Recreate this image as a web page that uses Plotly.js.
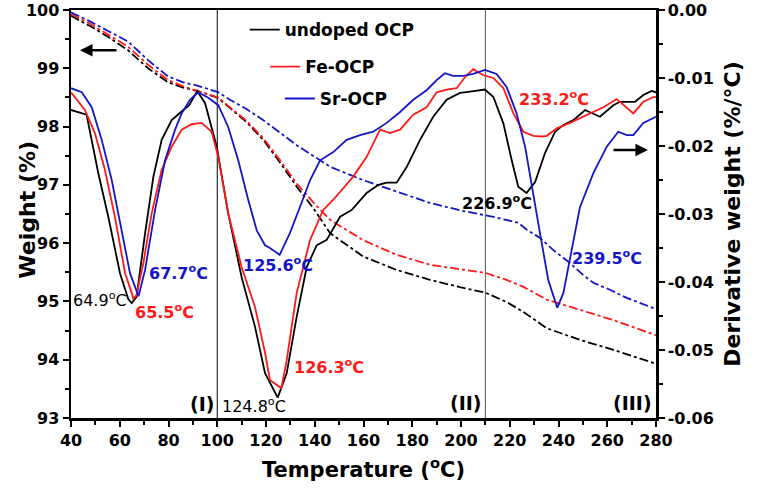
<!DOCTYPE html>
<html>
<head>
<meta charset="utf-8">
<script src="https://cdn.plot.ly/plotly-3.0.1.min.js"></script>
<style>
  html, body { margin: 0; padding: 0; background: #fff; }
  #chart { width: 757px; height: 493px; }
</style>
</head>
<body>
<div id="chart"></div>
<script>
/* TGA (dash-dot, left axis) + DTG (solid, right axis) for undoped / Fe / Sr OCP */

// ---- DTG curves (%/°C) ----
const undopedDtgT = [40, 46.4, 51.2, 55.3, 60.1, 63.5, 64.9, 66.9, 70.4, 73.8, 77.2, 81.3, 86.1, 88.5, 91.8, 95, 99.8, 104.5, 110, 115.5, 119.6, 124.8, 128.5, 132.6, 136.7, 140.8, 144.9, 150.4, 155.2, 161.3, 166.1, 169.5, 173.6, 177.7, 183.2, 188.6, 194.1, 199.6, 203.7, 209.8, 213.3, 217.4, 220.8, 223.5, 226.9, 230.4, 234.5, 238.6, 242, 246.1, 250.9, 257, 262.5, 265.2, 271.4, 274.8, 278.2, 280];
const undopedDtg  = [-0.0147, -0.0154, -0.0240, -0.0304, -0.0387, -0.0425, -0.0431, -0.0422, -0.0328, -0.0245, -0.0191, -0.0162, -0.0147, -0.0140, -0.0119, -0.0137, -0.0201, -0.0299, -0.0393, -0.0466, -0.0534, -0.0570, -0.0534, -0.0451, -0.0378, -0.0346, -0.0338, -0.0304, -0.0294, -0.0269, -0.0257, -0.0254, -0.0254, -0.0231, -0.0191, -0.0157, -0.0132, -0.0122, -0.0120, -0.0117, -0.0128, -0.0167, -0.0221, -0.0260, -0.0269, -0.0253, -0.0210, -0.0179, -0.0169, -0.0162, -0.0147, -0.0157, -0.0140, -0.0135, -0.0135, -0.0125, -0.0119, -0.0121];

const feDtgT = [40, 45.7, 49.8, 53.9, 58, 62.2, 64.9, 65.5, 66.8, 69.7, 73.1, 77.2, 81.3, 85.4, 89.5, 93.6, 97.7, 100.4, 104.5, 110, 115.5, 119.6, 121.6, 126.3, 128.5, 132.6, 138.1, 143.5, 147.6, 150.4, 155.8, 161.3, 166.8, 170.9, 175, 180.4, 185.9, 190, 194.1, 198.2, 201.6, 205, 209.2, 213.3, 217.4, 221.5, 225.6, 229.7, 233.2, 235.2, 239.3, 244.7, 251.6, 258.4, 263.9, 268, 270.7, 274.8, 278.9, 280];
const feDtg  = [-0.0121, -0.0147, -0.0181, -0.0235, -0.0304, -0.0387, -0.0416, -0.0424, -0.0420, -0.0372, -0.0299, -0.0235, -0.0201, -0.0176, -0.0168, -0.0166, -0.0179, -0.0216, -0.0299, -0.0378, -0.0437, -0.0504, -0.0544, -0.0556, -0.0515, -0.0416, -0.0338, -0.0294, -0.0279, -0.0267, -0.0245, -0.0216, -0.0176, -0.0181, -0.0176, -0.0154, -0.0143, -0.0121, -0.0117, -0.0115, -0.0099, -0.0087, -0.0096, -0.0100, -0.0115, -0.0152, -0.0179, -0.0185, -0.0186, -0.0185, -0.0174, -0.0166, -0.0154, -0.0143, -0.0131, -0.0143, -0.0152, -0.0135, -0.0128, -0.0128];

const srDtgT = [40, 44.4, 48.5, 52.6, 56.7, 60.8, 64.2, 67.7, 70.4, 74.5, 78.6, 82.7, 85.4, 88.8, 92.2, 96.3, 100.4, 104.5, 108.6, 112.7, 116.2, 119.6, 121.6, 125.6, 129.8, 133.9, 138.1, 142.2, 147.6, 153.1, 158.6, 164, 169.5, 175, 180.4, 185.9, 190, 193.4, 196.8, 200.9, 205, 209.8, 214.6, 218.7, 222.8, 226.3, 229, 232.4, 235.8, 239.5, 242, 244.7, 248.8, 254.3, 259.8, 264.5, 268, 270.7, 274.8, 280];
const srDtg  = [-0.0115, -0.0121, -0.0143, -0.0191, -0.0250, -0.0324, -0.0387, -0.0421, -0.0382, -0.0294, -0.0221, -0.0176, -0.0152, -0.0132, -0.0121, -0.0129, -0.0140, -0.0172, -0.0221, -0.0279, -0.0324, -0.0346, -0.0350, -0.0360, -0.0328, -0.0290, -0.0250, -0.0221, -0.0209, -0.0191, -0.0184, -0.0179, -0.0166, -0.0150, -0.0132, -0.0118, -0.0103, -0.0093, -0.0097, -0.0097, -0.0094, -0.0088, -0.0094, -0.0113, -0.0152, -0.0201, -0.0260, -0.0328, -0.0397, -0.0438, -0.0416, -0.0368, -0.0290, -0.0240, -0.0201, -0.0179, -0.0184, -0.0184, -0.0166, -0.0157];

// ---- TGA curves (weight %) ----
const undopedTgaT = [40, 48, 55.2, 63.4, 71.6, 79.8, 86, 92.1, 100.3, 105.2, 112, 118.9, 125.8, 132.6, 139.4, 146.3, 159.9, 173.6, 187.3, 200, 210, 218.7, 225.6, 235.2, 248.8, 262.5, 280];
const undopedTga  = [99.9, 99.72, 99.54, 99.31, 99.0, 98.76, 98.67, 98.61, 98.49, 98.32, 98.08, 97.77, 97.38, 96.97, 96.6, 96.17, 95.77, 95.54, 95.37, 95.24, 95.15, 94.99, 94.82, 94.54, 94.34, 94.17, 93.93];

const feTgaT = [40, 48, 55.2, 63.4, 71.6, 79.8, 86, 92.1, 100.3, 105.2, 112, 118.9, 125.8, 132.6, 139.4, 146.3, 159.9, 173.6, 187.3, 200, 210, 218.7, 225.6, 235.2, 248.8, 262.5, 280];
const feTga  = [99.93, 99.76, 99.58, 99.37, 99.06, 98.8, 98.69, 98.61, 98.5, 98.33, 98.1, 97.8, 97.42, 97.02, 96.7, 96.4, 96.05, 95.8, 95.63, 95.55, 95.49, 95.37, 95.25, 95.03, 94.85, 94.68, 94.42];

const srTgaT = [40, 48, 55.2, 63.4, 71.6, 79.8, 86, 92.1, 100.3, 105.2, 112, 118.9, 132.6, 146.3, 159.9, 173.6, 187.3, 200, 213.3, 223.5, 227, 232.4, 237.9, 244.7, 250.2, 254.3, 261.1, 268, 280];
const srTga  = [99.96, 99.8, 99.64, 99.46, 99.14, 98.86, 98.76, 98.7, 98.59, 98.46, 98.3, 98.11, 97.68, 97.31, 97.08, 96.88, 96.69, 96.56, 96.45, 96.35, 96.23, 96.09, 95.88, 95.66, 95.45, 95.32, 95.2, 95.06, 94.87];

// ---- labels ----
const seriesNames = ['undoped OCP', 'Fe-OCP', 'Sr-OCP'];
const regionBounds = [100, 210];
const regionNames = ['(I)', '(II)', '(III)'];
const derivTickVals = [0, -0.01, -0.02, -0.03, -0.04, -0.05, -0.06];
const derivTickText = ['0.00', '-0.01', '-0.02', '-0.03', '-0.04', '-0.05', '-0.06'];

const BLACK = '#000000';
const RED = '#ff1a1a';
const BLUE = '#1515c8';
const FONT = 'DejaVu Sans, Liberation Sans, Arial, sans-serif';

const traces = [
  { x: undopedTgaT, y: undopedTga, yaxis: 'y',  showlegend: false, mode: 'lines', line: { color: BLACK, width: 1.8, dash: 'dashdot' } },
  { x: feTgaT,      y: feTga,      yaxis: 'y',  showlegend: false, mode: 'lines', line: { color: RED,   width: 1.8, dash: 'dashdot' } },
  { x: srTgaT,      y: srTga,      yaxis: 'y',  showlegend: false, mode: 'lines', line: { color: BLUE,  width: 1.8, dash: 'dashdot' } },
  { x: undopedDtgT, y: undopedDtg, yaxis: 'y2', name: seriesNames[0], legend: 'legend',  mode: 'lines', line: { color: BLACK, width: 1.8 } },
  { x: feDtgT,      y: feDtg,      yaxis: 'y2', name: seriesNames[1], legend: 'legend2', mode: 'lines', line: { color: RED,   width: 1.8 } },
  { x: srDtgT,      y: srDtg,      yaxis: 'y2', name: seriesNames[2], legend: 'legend3', mode: 'lines', line: { color: BLUE,  width: 1.8 } }
];

function _legend(x, y) {
  return {
    x: x, y: y, xanchor: 'left', yanchor: 'middle',
    bgcolor: 'rgba(0,0,0,0)', borderwidth: 0,
    font: { family: FONT, size: 17, weight: 'bold', color: BLACK },
    itemclick: false
  };
}

function _label(text, x, y, color, bold, size) {
  return {
    text: text, x: x, y: y, xref: 'x', yref: 'y', showarrow: false,
    font: { family: FONT, size: size || 16, color: color, weight: bold ? 'bold' : 'normal' }
  };
}

const titleFont = { family: FONT, size: 22, weight: 'bold', color: BLACK };

const annotations = [
  _label('64.9<sup>o</sup>C', 51.9, 95.03, BLACK, false),
  _label('65.5<sup>o</sup>C', 78.2, 94.82, RED, true),
  _label('67.7<sup>o</sup>C', 84.3, 95.49, BLUE, true),
  _label('125.6<sup>o</sup>C', 124.9, 95.63, BLUE, true),
  _label('124.8<sup>o</sup>C', 115.1, 93.22, BLACK, false),
  _label('126.3<sup>o</sup>C', 145.8, 93.89, RED, true),
  _label('226.9<sup>o</sup>C', 214.8, 96.69, BLACK, true),
  _label('233.2<sup>o</sup>C', 238.2, 98.49, RED, true),
  _label('239.5<sup>o</sup>C', 259.9, 95.76, BLUE, true),
  _label(regionNames[0], 93.7, 93.24, BLACK, true, 19),
  _label(regionNames[1], 202.1, 93.26, BLACK, true, 19),
  _label(regionNames[2], 270.2, 93.26, BLACK, true, 19),
  // left axis title, placed by hand so it sits close to the tick labels
  { text: 'Weight (%)', xref: 'paper', yref: 'paper', x: -0.074, y: 0.51,
    xanchor: 'center', yanchor: 'middle', textangle: -90, showarrow: false, font: titleFont },
  // axis direction arrows
  { x: 43.7, y: 99.31, xref: 'x', yref: 'y', text: '', showarrow: true, ax: 38, ay: 0,
    arrowhead: 2, arrowsize: 1, arrowwidth: 2.5, arrowcolor: BLACK },
  { x: 276.7, y: 97.6, xref: 'x', yref: 'y', text: '', showarrow: true, ax: -36, ay: 0,
    arrowhead: 2, arrowsize: 1, arrowwidth: 2.5, arrowcolor: BLACK }
];

const shapes = regionBounds.map((b, i) => ({
  type: 'line', xref: 'x', yref: 'paper', x0: b, x1: b, y0: 0, y1: 1,
  layer: 'below', line: { color: i === 0 ? '#000' : '#555', width: 1 }
}));

const axisFont = { family: FONT, size: 16, weight: 'bold', color: BLACK };

const layout = {
  width: 757, height: 493,
  margin: { l: 71, r: 101, t: 10, b: 75 },
  paper_bgcolor: '#fff', plot_bgcolor: '#fff',
  showlegend: true,
  legend:  _legend(0.297, 0.951),
  legend2: _legend(0.332, 0.86),
  legend3: _legend(0.357, 0.782),
  xaxis: {
    range: [40, 280], tick0: 40, dtick: 20,
    ticks: 'outside', ticklen: 6, tickwidth: 2, tickcolor: BLACK,
    minor: { dtick: 10, ticks: 'outside', ticklen: 4, tickwidth: 2, tickcolor: BLACK },
    showline: true, linewidth: 2.5, linecolor: BLACK, mirror: true,
    showgrid: false, zeroline: false, tickfont: axisFont,
    title: { text: 'Temperature (<sup>o</sup>C)', font: { family: FONT, size: 21, weight: 'bold', color: BLACK }, standoff: 14 }
  },
  yaxis: {
    range: [93, 100], tick0: 93, dtick: 1,
    ticks: 'outside', ticklen: 6, tickwidth: 2, tickcolor: BLACK,
    minor: { dtick: 0.5, ticks: 'outside', ticklen: 4, tickwidth: 2, tickcolor: BLACK },
    showline: true, linewidth: 2.5, linecolor: BLACK, mirror: true,
    showgrid: false, zeroline: false, tickfont: axisFont
  },
  yaxis2: {
    overlaying: 'y', side: 'right', range: [-0.06, 0],
    tickvals: derivTickVals, ticktext: derivTickText,
    ticks: 'outside', ticklen: 6, tickwidth: 2, tickcolor: BLACK,
    minor: { dtick: 0.005, ticks: 'outside', ticklen: 4, tickwidth: 2, tickcolor: BLACK },
    showline: true, linewidth: 2.5, linecolor: BLACK,
    showgrid: false, zeroline: false, tickfont: axisFont,
    title: { text: 'Derivative weight (%/°C)', font: titleFont, standoff: 12 }
  },
  annotations: annotations,
  shapes: shapes
};

Plotly.newPlot('chart', traces, layout, { staticPlot: true, displayModeBar: false });
</script>
</body>
</html>
